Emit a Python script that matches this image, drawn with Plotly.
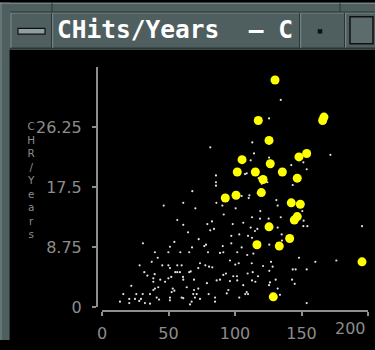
import plotly.graph_objects as go

# ---------------- data ----------------
hits_x = [130.1, 117.5, 166.9, 165.9, 125.6, 105.3, 148.1, 153.9, 126.5, 101.7,
          115.3, 135.6, 121.1, 146.8, 119.8, 100.8, 92.7, 142.3, 149.1, 146.8,
          144.6, 125.6, 141.1, 116.5, 133.3, 195.5, 128.8]
hits_y = [33.1, 27.2, 27.7, 27.2, 24.3, 21.5, 21.9, 22.4, 20.9, 19.7,
          19.7, 19.7, 18.6, 18.8, 16.7, 16.3, 15.9, 15.2, 15.0, 13.2,
          12.7, 11.7, 10.0, 9.1, 8.9, 6.6, 1.5]

all_x = [134.4, 125.6, 113.0, 81.4, 114.3, 125.6, 111.8, 171.7, 142.3, 151.4,
         153.9, 85.7, 85.7, 85.7, 107.5, 108.8, 117.8, 124.3, 120.1, 143.4,
         110.8, 110.3, 105.0, 117.1, 86.0, 90.5, 131.1, 132.1, 100.5, 91.5,
         119.0, 112.8, 118.8, 125.3, 134.4, 150.6, 151.6, 154.4, 151.4, 82.7,
         79.2, 81.4, 84.2, 98.3, 106.2, 111.8, 115.0, 116.8, 132.1, 195.5,
         97.2, 103.2, 109.8, 112.8, 118.3, 135.1, 135.3, 131.6, 76.9, 78.2,
         90.8, 97.2, 105.0, 101.7, 109.2, 113.8, 125.8, 88.7, 91.2, 79.7,
         148.1, 160.4, 176.2, 127.1, 121.1, 128.3, 112.6, 102.8, 100.2, 96.2,
         143.4, 145.6, 153.9, 73.7, 77.7, 80.5, 82.9, 109.5, 113.3, 125.8,
         93.2, 91.2, 98.7, 101.5, 101.7, 117.3, 130.6, 126.3, 78.9, 86.2,
         88.7, 96.2, 112.8, 115.3, 142.9, 144.9, 106.2, 125.6, 132.1,
         67.9, 61.1, 46.4, 70.2, 56.6, 61.1, 64.7, 30.8, 54.4, 72.7,
         51.1, 67.7, 39.8, 49.9, 58.9, 65.6, 41.9, 37.4, 28.3, 45.3,
         49.9, 51.1, 56.6, 59.9, 72.4, 31.8, 34.1, 39.6, 38.6, 38.6,
         43.8, 47.4, 49.9, 52.1, 55.1, 56.6, 58.6, 60.9, 61.1, 65.6,
         66.7, 69.2, 22.0, 39.8, 38.6, 42.3, 53.2, 52.4, 54.4, 63.7,
         69.2, 72.4, 16.0, 20.5, 24.8, 29.3, 30.6, 25.8, 36.1, 41.1,
         51.1, 59.9, 68.6, 69.9, 71.2, 73.7, 80.2, 85.0, 93.8, 103.2,
         107.7, 109.8, 13.5, 20.5, 28.0, 32.3, 36.1, 42.9, 51.1, 61.1,
         66.2, 67.4, 85.0, 153.9, 133.8, 95.0, 108.8]
all_y = [30.2, 27.5, 24.0, 23.3, 22.4, 21.8, 21.4, 22.2, 20.7, 21.1,
         20.1, 19.2, 18.2, 17.7, 19.4, 19.5, 18.8, 18.2, 18.0, 17.8,
         16.3, 15.9, 16.2, 16.6, 15.2, 14.8, 15.6, 14.8, 14.4, 13.5,
         14.0, 13.1, 12.9, 12.9, 13.1, 14.0, 12.6, 11.8, 11.8, 12.5,
         12.1, 11.2, 11.4, 12.1, 12.3, 11.6, 11.1, 11.4, 11.6, 11.8,
         10.4, 10.6, 10.4, 10.1, 9.4, 10.6, 9.7, 9.3, 8.9, 9.1,
         8.9, 9.3, 8.7, 8.0, 7.6, 7.8, 9.1, 7.9, 8.0, 8.0,
         7.2, 6.6, 6.8, 6.6, 6.0, 5.9, 6.4, 6.4, 6.2, 6.8,
         5.5, 5.5, 5.5, 6.4, 6.1, 5.9, 5.8, 4.9, 5.1, 5.3,
         4.9, 4.7, 4.5, 4.5, 3.9, 4.5, 4.0, 3.6, 3.5, 3.9,
         4.0, 3.8, 3.9, 3.7, 4.0, 3.4, 3.2, 3.2, 2.7,
         16.9, 15.2, 14.8, 14.4, 12.7, 12.0, 10.9, 9.3, 9.5, 9.9,
         8.8, 8.7, 8.0, 8.0, 8.0, 8.0, 7.2, 6.6, 6.1, 6.1,
         6.1, 5.7, 6.1, 6.1, 5.7, 5.1, 4.6, 4.8, 4.2, 3.7,
         4.0, 3.7, 4.2, 4.4, 5.1, 5.1, 5.1, 4.4, 4.0, 5.1,
         5.2, 4.0, 3.1, 2.7, 2.5, 2.9, 2.7, 2.2, 2.4, 2.9,
         2.5, 2.7, 1.9, 1.2, 1.2, 1.2, 1.9, 1.9, 1.9, 1.4,
         1.4, 1.4, 1.9, 1.4, 1.9, 1.2, 1.9, 1.4, 2.0, 1.4,
         1.9, 1.9, 0.8, 0.6, 0.9, 0.6, 0.5, 1.1, 1.0, 1.3,
         0.4, 0.8, 0.8, 0.6, 1.8, 2.5, 2.2]

x_ticks = [0, 50, 100, 150, 200]
x_tick_text = ["0", "50", "100", "150", "200"]
y_ticks = [0, 8.75, 17.5, 26.25]
y_tick_text = ["0", "8.75", "17.5", "26.25"]
title_text = "CHits/Years  \u2013 C"
y_label = "CHR/Years"

# ---------------- layout geometry ----------------
W, H = 375, 350
L, R, T, B = 97, 7, 67, 30
PW, PH = W - L - R, H - T - B


def px(x):
    return (x - L) / PW


def py(y):
    return (H - B - y) / PH


FRAME = "#4f5e5e"
LIGHT = "#7d8d8d"
DARK = "#2c3636"
AXIS = "#8e8e8e"
LABEL = "#8c8c8c"
TICKFONT = dict(family="DejaVu Sans", size=16, color=LABEL)

fig = go.Figure()
fig.add_trace(go.Scatter(x=all_x, y=all_y, mode="markers",
                         marker=dict(size=2.2, color="#e0e0e0", line=dict(width=0)),
                         hoverinfo="skip", showlegend=False))
fig.add_trace(go.Scatter(x=hits_x, y=hits_y, mode="markers",
                         marker=dict(size=9, color="#ffff00", line=dict(width=0)),
                         showlegend=False))

shapes = []


def rect(x0, y0, x1, y1, fill, line=None, lw=0):
    shapes.append(dict(type="rect", xref="paper", yref="paper",
                       x0=px(x0), x1=px(x1), y0=py(y1), y1=py(y0),
                       fillcolor=fill, line=dict(color=line or fill, width=lw),
                       layer="above"))


def seg(x0, y0, x1, y1, color, w=1):
    shapes.append(dict(type="line", xref="paper", yref="paper",
                       x0=px(x0), x1=px(x1), y0=py(y0), y1=py(y1),
                       line=dict(color=color, width=w), layer="above"))


# window frame
rect(0, 0, 375, 49, FRAME)
rect(0, 0, 10, 350, FRAME)
seg(9.5, 49, 9.5, 350, DARK, 1)
seg(1, 0, 1, 350, LIGHT, 1)
seg(0, 1, 375, 1, LIGHT, 1)
seg(52, 0, 52, 10, DARK, 1)
seg(340, 0, 340, 10, DARK, 1)
# title bar bevel
seg(10, 11, 375, 11, LIGHT, 1)
seg(10, 10, 375, 10, DARK, 1)
seg(10, 47.5, 375, 47.5, DARK, 1.5)
seg(11, 11, 11, 47, LIGHT, 1)
for xs in (52, 300, 345):
    seg(xs - 0.5, 11, xs - 0.5, 47, DARK, 1)
    seg(xs + 0.7, 11, xs + 0.7, 47, LIGHT, 1)
# menu button glyph
rect(18, 27, 45, 33, "#8fa0a0", "#111111", 1.2)
# minimize glyph
rect(318, 28, 322, 32, "#111111", "#111111", 0.5)
# maximize glyph
rect(350, 15, 373, 43, "#5c6b6b", "#111111", 1.5)

annotations = [dict(xref="paper", yref="paper", x=px(55), y=py(28),
                    xanchor="left", yanchor="middle", showarrow=False,
                    text="<b>" + title_text + "</b>",
                    font=dict(family="DejaVu Sans Mono", size=24.5, color="#ffffff"))]

# stacked (unrotated) y-axis title, one letter per line
annotations.append(dict(xref="paper", yref="paper", x=px(31), y=py(184),
                        xanchor="center", yanchor="middle", showarrow=False,
                        text="<br>".join(y_label),
                        font=dict(family="DejaVu Sans", size=10.4, color=LABEL)))

# last x tick label sits flush-right against its tick (window edge)
annotations.append(dict(xref="x", yref="paper", x=x_ticks[-1], y=py(326),
                        xanchor="right", yanchor="top", showarrow=False,
                        text=x_tick_text[-1], font=TICKFONT))

fig.update_layout(
    width=W, height=H,
    margin=dict(l=L, r=R, t=T, b=B, pad=0),
    paper_bgcolor="#000000", plot_bgcolor="#000000",
    shapes=shapes, annotations=annotations,
    xaxis=dict(domain=[(102 - L) / PW, 1], range=[0, 200], anchor="free", position=0,
               showgrid=False, zeroline=False, showline=True, linecolor=AXIS,
               linewidth=2, ticks="outside", ticklen=4, tickwidth=2, tickcolor=AXIS,
               tickvals=x_ticks, ticktext=x_tick_text[:-1] + [""],
               ticklabelstandoff=4, tickfont=TICKFONT),
    yaxis=dict(domain=[4 / PH, 1], range=[0, 35], anchor="free", position=0,
               showgrid=False, zeroline=False, showline=True, linecolor=AXIS,
               linewidth=2, ticks="outside", ticklen=4, tickwidth=2, tickcolor=AXIS,
               tickvals=y_ticks, ticktext=y_tick_text,
               ticklabelstandoff=7, tickfont=TICKFONT),
)

fig.write_html("out.html", config={"displayModeBar": False},
               post_script="document.body.style.margin='0px';"
                           "document.body.style.overflow='hidden';")
